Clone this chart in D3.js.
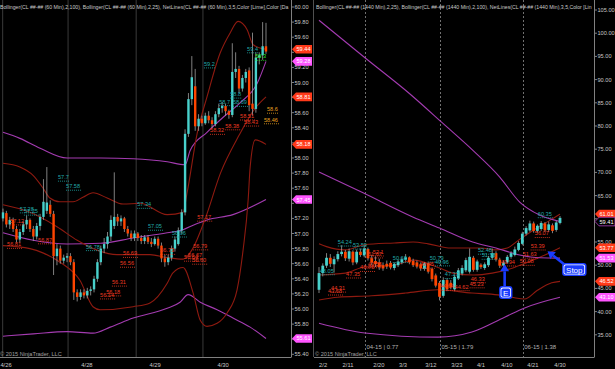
<!DOCTYPE html>
<html><head><meta charset="utf-8">
<script src="https://cdn.jsdelivr.net/npm/d3@7/dist/d3.min.js"></script>
<style>body{margin:0;background:#000;overflow:hidden}svg{display:block}text{font-family:"Liberation Sans",Arial,sans-serif}</style>
</head><body><svg id="c" width="615" height="369"></svg>
<script>
// ---------------- DATA ----------------
// Left panel: 60-min candles [open, high, low, close]
const leftCandles = [
[57.20,57.33,57.16,57.28],[57.27,57.30,57.08,57.12],[57.12,57.22,57.06,57.18],[57.18,57.21,57.02,57.06],
[57.06,57.10,56.88,56.92],[56.92,57.06,56.88,57.02],[57.02,57.16,56.98,57.12],[57.12,57.24,57.06,57.18],
[57.18,57.20,57.02,57.06],[57.06,57.10,56.90,56.96],[56.96,57.14,56.92,57.10],[57.10,57.26,57.04,57.22],
[57.22,57.72,57.18,57.42],[57.30,57.88,57.26,57.41],[57.38,57.44,57.22,57.26],[57.26,57.30,56.45,56.70],
[56.70,56.86,56.58,56.80],[56.80,56.84,56.60,56.64],[56.64,56.72,56.60,56.68],[56.68,56.74,56.62,56.70],
[56.70,56.74,56.58,56.62],[56.62,56.66,56.12,56.22],[56.22,56.26,56.10,56.16],[56.16,56.26,56.12,56.22],
[56.22,56.26,56.14,56.18],[56.18,56.28,56.14,56.24],[56.24,56.30,56.18,56.26],[56.26,56.44,56.22,56.40],
[56.40,56.66,56.36,56.62],[56.62,56.84,56.58,56.80],[56.80,56.94,56.74,56.86],[56.86,57.02,56.80,56.96],
[56.96,57.24,56.90,57.18],[57.10,57.81,57.06,57.22],[57.22,57.26,57.10,57.16],[57.16,57.24,57.10,57.20],
[57.20,57.22,57.02,57.06],[57.06,57.10,56.96,57.00],[57.00,57.04,56.90,56.94],[56.94,57.04,56.90,57.00],
[57.00,57.02,56.90,56.94],[56.94,56.98,56.86,56.90],[56.90,56.98,56.86,56.95],[56.95,56.98,56.86,56.89],
[56.89,56.94,56.82,56.86],[56.86,56.96,56.84,56.93],[56.93,56.96,56.80,56.84],[56.84,56.88,56.62,56.67],
[56.67,56.72,56.56,56.62],[56.62,56.72,56.58,56.68],[56.68,56.84,56.64,56.80],[56.80,56.96,56.76,56.92],
[56.86,57.08,56.84,57.04],[57.04,57.32,57.00,57.28],[57.28,58.38,57.24,58.32],[58.32,58.86,58.28,58.78],
[58.78,59.35,58.70,59.07],[58.95,59.18,58.36,58.42],[58.42,58.58,58.36,58.52],[58.52,58.56,58.42,58.46],
[58.46,58.60,58.44,58.56],[58.56,58.62,58.46,58.50],[58.50,58.54,58.40,58.45],[58.45,58.62,58.42,58.58],
[58.58,58.72,58.54,58.66],[58.66,58.74,58.60,58.69],[58.69,58.72,58.56,58.62],[58.62,58.64,58.52,58.57],
[58.57,59.52,58.54,59.14],[59.14,59.40,59.06,59.18],[59.18,59.22,58.86,58.92],[58.92,59.10,58.88,59.06],
[59.06,59.18,59.00,59.14],[59.16,59.20,58.62,58.70],[58.72,59.66,58.56,58.65],[58.65,59.40,58.60,59.33],
[59.33,59.40,59.24,59.36],[59.36,59.80,59.30,59.48],[59.48,59.79,59.38,59.41]
];
// Right panel: daily candles [open, high, low, close]
const rightCandles = [
[44.7,49.6,44.0,48.3],[48.3,50.4,47.6,49.9],[49.9,52.6,49.4,51.6],[51.6,52.4,49.6,50.3],
[50.2,51.9,48.4,51.3],[51.3,53.0,50.8,52.4],[52.4,54.3,51.9,52.9],[52.9,53.3,50.9,51.5],
[51.4,53.6,50.8,53.0],[52.9,53.2,50.0,50.6],[50.6,53.4,50.2,52.9],[52.9,53.6,51.8,52.2],
[52.1,54.3,51.7,53.6],[53.5,53.8,51.0,51.5],[51.5,52.2,50.0,50.6],[50.9,51.9,49.6,50.2],
[50.6,51.4,49.0,49.6],[50.0,50.6,48.8,49.3],[50.3,51.0,49.2,49.7],[50.5,50.9,49.1,49.5],
[49.4,50.6,48.9,50.3],[50.0,51.2,49.6,50.8],[50.6,51.6,50.2,51.3],[51.2,52.4,50.8,51.7],
[51.7,51.9,50.2,50.6],[50.9,51.4,49.6,50.0],[50.6,51.0,49.3,49.7],[50.2,50.6,48.8,49.3],
[49.2,50.7,48.8,50.4],[50.4,50.8,48.2,48.6],[49.2,49.5,46.5,47.0],[47.8,48.2,45.2,45.6],
[46.2,46.6,42.4,43.2],[43.4,47.4,43.0,46.8],[46.8,47.2,44.4,44.8],[46.2,46.8,44.8,45.2],
[44.8,48.0,44.4,47.5],[47.2,49.4,46.8,48.9],[48.2,50.0,47.8,49.4],[48.9,51.6,48.5,51.1],
[48.6,53.6,48.2,51.8],[51.6,52.0,48.6,49.0],[49.0,51.2,48.6,50.8],[50.1,50.4,49.2,49.6],
[49.4,50.6,49.0,50.2],[50.0,52.0,49.6,51.6],[51.6,53.6,51.2,52.6],[52.6,53.0,50.8,51.2],
[51.2,51.6,49.4,49.9],[49.9,51.0,49.6,50.6],[50.6,52.2,50.3,51.8],[51.8,53.0,51.4,52.6],
[52.2,54.0,51.9,53.4],[53.3,55.2,53.0,54.8],[54.6,57.2,54.3,56.8],[56.8,58.4,56.4,58.0],
[57.5,59.6,57.2,59.0],[59.0,59.4,57.0,57.4],[57.4,58.8,57.0,58.5],[57.8,59.5,57.4,59.1],
[59.0,59.3,57.2,57.5],[57.6,59.4,57.2,58.8],[58.6,59.0,56.9,57.4],[57.6,59.6,57.2,59.2],
[59.1,60.6,58.8,60.2]
];
// Indicator lines [bar index, value]
const leftBB100Upper = [[0,58.34],[5,58.26],[11,58.13],[19,58.0],[29,58.0],[38.6,57.99],[48.7,57.95],[54,57.91],[55.5,58.1],[60.5,58.34],[65.3,58.54],[70.3,58.73],[75.4,58.99],[78,59.28]];
const leftBB100Mid = [[0,57.01],[9,56.91],[19,56.86],[29,56.87],[38.6,56.94],[48.7,57.01],[53.4,57.05],[56.4,57.11],[60.5,57.18],[68.2,57.25],[78,57.45]];
const leftBB100Lower = [[0,55.64],[9,55.67],[19,55.70],[26.7,55.68],[31.8,55.76],[38.6,55.88],[48.7,56.01],[52.5,56.09],[54.9,56.19],[58.5,56.09],[63.5,55.99],[68.2,55.88],[73.3,55.76],[78,55.61]];
const leftBB25Upper = [[0,57.93],[5,57.88],[8.9,57.77],[11.9,57.60],[13.9,57.47],[16.9,57.42],[20.8,57.42],[23.7,57.48],[26.7,57.54],[30.9,57.47],[35.6,57.39],[40.7,57.40],[48.7,57.25],[53.4,57.28],[54.6,57.54],[57.6,58.33],[60.5,58.81],[64.4,59.39],[67.4,59.66],[69.7,59.81],[72.4,59.70],[74.2,59.50],[78,59.44]];
const leftBB25Mid = [[0,57.38],[8,57.28],[16,57.09],[22,56.91],[27.9,56.78],[33.8,56.72],[43.6,56.72],[48.7,56.68],[53.4,56.66],[56,56.78],[60,57.20],[64.5,57.80],[70,58.30],[74.8,58.66],[78,58.81]];
const leftBB25Lower = [[0,56.84],[8,56.80],[12,56.74],[16.9,56.62],[22.8,56.38],[26.7,56.03],[28.8,55.99],[38.6,56.03],[43.6,56.08],[48.7,56.34],[50.4,56.48],[53.4,56.55],[56.4,56.21],[58.5,55.85],[60.5,55.77],[63.5,55.81],[66.5,55.95],[69.4,56.25],[71.2,56.78],[72.7,57.44],[73.3,57.88],[74.8,58.24],[78,58.18]];
const rightBB25Upper = [[0,54.6],[2,54.0],[7,53.3],[12,54.4],[20,54.8],[25,55.0],[29,54.6],[35,53.7],[43,53.7],[47,53.3],[50,53.7],[53,55.4],[57,57.6],[61,59.5],[64,61.01]];
const rightBB25Mid = [[0,47.9],[7,48.3],[12,49.6],[20,50.0],[25,51.1],[32,49.4],[35.5,48.3],[41,47.9],[46,48.3],[51.5,49.4],[55,50.5],[60,52.2],[64,53.77]];
const rightBB25Lower = [[0,42.5],[5,43.1],[14,43.4],[23,44.0],[31.5,44.7],[40.6,44.0],[47.5,43.6],[51.2,43.1],[54.6,42.7],[58,44.6],[61.8,46.2],[64,46.52]];
const rightBB100Upper = [[0,102.8],[12.2,94.7],[24,87.0],[33,80.5],[40.8,74.8],[48,69.0],[53.3,63.6],[58.6,60.8],[64,59.41]];
const rightBB100Mid = [[0,70.1],[11.7,65.6],[24.9,60.4],[32,58.0],[40.8,55.0],[47,53.7],[53.3,52.2],[58.6,51.6],[64,51.53]];
const rightBB100Lower = [[0,37.5],[12.2,35.4],[31.6,34.5],[40.6,35.6],[49.3,38.8],[54.6,40.8],[64,43.10]];
// Axis tick values
const leftTicks = d3.range(0,24).map(k => +(55.4 + k*0.2).toFixed(2));
const rightTicks = d3.range(35,106,5);
// Date labels [bar index, text]
const leftDates = [[0.9,"4/26"],[24.9,"4/28"],[45.1,"4/29"],[65.3,"4/30"]];
const rightDates = [[1.1,"2/2"],[7.7,"2/11"],[15.9,"2/20"],[22.3,"3/3"],[29.7,"3/12"],[36.6,"3/23"],[43.0,"4/1"],[49.9,"4/10"],[56.8,"4/21"],[64.0,"4/30"]];
const leftSessions = [-0.1, 19.3, 39.5, 59.3];
const rightRolls = [[12.2,"04-15 | 0.77"],[32.1,"05-15 | 1.79"],[54.1,"06-15 | 1.38"]];
// Price tags [value, kind]
const leftTags = [[59.44,"red"],[59.28,"mag"],[58.81,"red"],[58.18,"red"],[57.45,"mag"],[55.61,"mag"]];
const rightTags = [[61.01,"red"],[59.41,"blk"],[53.77,"red"],[51.53,"mag"],[46.52,"red"],[43.10,"mag"]];
// NetLines labels [text, bar index, kind]
const leftLabels = [
["57.7",16.3,"teal"],["57.58",18.7,"teal"],["57.28",5.0,"teal"],["57.25",6.2,"teal"],["56.78",24.6,"teal"],
["57.34",39.8,"teal"],["57.05",43,"teal"],["56.96",50.1,"teal"],["59.2",59.6,"teal"],["58.7",64.1,"teal"],
["58.8",67.4,"teal"],["58.69",68.2,"teal"],["59.4",72.4,"teal"],["59.3",74.8,"lime"],
["57.12",2.1,"red"],["56.81",1.2,"red"],["56.87",10.4,"red"],["56.31",32.3,"red"],["56.69",35.6,"red"],
["56.56",34.7,"red"],["56.18",30.6,"red"],["56.14",28.8,"red"],["56.73",46.6,"red"],["56.79",56.4,"red"],
["57.17",57.6,"red"],["56.67",54.9,"red"],["56.64",53.7,"red"],["56.60",56.1,"red"],["58.32",61.4,"red"],
["58.38",65.9,"red"],["58.51",70.3,"red"],["58.43",71.5,"red"],["58.6",78.3,"orange"],["58.46",77.4,"orange"]
];
const rightLabels = [
["54.24",5.0,"teal"],["53.59",9.0,"teal"],["50.68",19.6,"teal"],["50.79",29.4,"teal"],["49.96",30.8,"teal"],
["47.23",33.4,"teal"],["52.48",42.2,"teal"],["51.38",43.2,"teal"],["60.35",58.1,"teal"],["48.05",0.2,"teal"],
["52.1",14.3,"red"],["51.67",13,"red"],["49.56",13,"red"],["48.76",10.9,"red"],["47.35",7.2,"red"],
["44.31",3.2,"red"],["43.68",2.4,"red"],["49.45",26.8,"red"],["46.33",40.3,"red"],["45.23",40,"red"],
["44.64",32.1,"red"],["44.62",36,"red"],["49.94",48.3,"red"],["50.08",53.3,"red"],["51.63",54.1,"red"],
["53.39",56.2,"red"],["56.07",57.3,"red"]
];
// Annotations: text, tip [index, value], box center [index, value]
const annotations = [["E",[49.3,50.2],[49.6,44.1]],["Stop",[60.7,53.0],[67.8,49.07]]];
const leftHeader = "Bollinger(CL ##-## (60 Min),2,100), Bollinger(CL ##-## (60 Min),2,25), NetLines(CL ##-## (60 Min),3,5,Color [Lime],Color [Da";
const rightHeader = "Bollinger(CL ##-## (1440 Min),2,25), Bollinger(CL ##-## (1440 Min),2,100), NetLines(CL ##-## (1440 Min),3,5,Color [Lin";
const copyright = "© 2015 NinjaTrader, LLC";

// ---------------- DRAW ----------------
const svg = d3.select("#c");
svg.append("rect").attr("width",615).attr("height",369).attr("fill","#000");
const defs = svg.append("defs");
defs.append("clipPath").attr("id","clipL").append("rect").attr("x",0).attr("y",0).attr("width",291).attr("height",357);
defs.append("clipPath").attr("id","clipR").append("rect").attr("x",314).attr("y",0).attr("width",280).attr("height",357);

const COL = {up:"#48d1cc", down:"#ff4500", wick:"#a0a0a0", bb25:"#8e1a10", bb100:"#a33bb0",
  teal:"#20a8a8", red:"#ec3a22", orange:"#e8a020", lime:"#2ee82e", axis:"#808080", txt:"#c8c8c8"};

function panel(cfg){
  const {x, y, clip, axisX, candles, bodyW, lines, ticks, dates, labels, tags, header, headerX, headerW, copyX} = cfg;
  const g = svg.append("g").attr("clip-path",`url(#${clip})`);
  if (cfg.sessions) cfg.sessions.forEach(s => g.append("line").attr("x1",x(s)).attr("x2",x(s)).attr("y1",0).attr("y2",357).attr("stroke","#3a3a3a").attr("stroke-width",1));
  if (cfg.rolls) cfg.rolls.forEach(r => {
    g.append("line").attr("x1",Math.round(x(r[0]))+0.5).attr("x2",Math.round(x(r[0]))+0.5).attr("y1",0).attr("y2",357).attr("stroke","#707070").attr("stroke-dasharray","2,2");
    g.append("text").attr("x",x(r[0])+1.5).attr("y",349).attr("font-size",6).attr("fill","#b0b0b0").text(r[1]);
  });
  // header: font size chosen so the text's natural width fits the panel
  const ht = svg.append("text").attr("x",headerX).attr("y",8.5).attr("font-size",6).attr("fill","#c8c8c8").text(header);
  const nat = ht.node().getComputedTextLength();
  ht.attr("font-size", 6*headerW/nat);
  // indicator lines
  const line = d3.line().x(d=>x(d[0])).y(d=>y(d[1])).curve(d3.curveMonotoneX);
  lines.forEach(l => g.append("path").attr("d",line(l[0])).attr("fill","none").attr("stroke",l[1]).attr("stroke-width",1.1));
  // candles
  const cg = g.append("g");
  candles.forEach((c,i) => {
    const [o,h,l,cl] = c, up = cl >= o;
    cg.append("line").attr("x1",x(i)).attr("x2",x(i)).attr("y1",y(h)).attr("y2",y(l)).attr("stroke",COL.wick).attr("stroke-width",0.8);
    const top = y(Math.max(o,cl)), bot = y(Math.min(o,cl));
    cg.append("rect").attr("x",x(i)-bodyW/2).attr("y",top).attr("width",bodyW).attr("height",Math.max(1,bot-top)).attr("fill",up?COL.up:COL.down);
  });
  // labels
  labels.forEach(lb => {
    const v = parseFloat(lb[0]), px = x(lb[1]), py = y(v);
    const t = g.append("text").attr("x",px).attr("y",py-1.6).attr("font-size",5.6).attr("fill",COL[lb[2]]).text(lb[0]);
    const w = t.node().getComputedTextLength();
    g.append("line").attr("x1",px).attr("x2",px+w+1).attr("y1",py+0.5).attr("y2",py+0.5).attr("stroke",COL[lb[2]]).attr("stroke-width",0.8).attr("stroke-dasharray","1,1");
  });
  // axes frame
  svg.append("line").attr("x1",axisX+0.5).attr("x2",axisX+0.5).attr("y1",0).attr("y2",357).attr("stroke",COL.axis);
  svg.append("line").attr("x1",cfg.left).attr("x2",axisX+0.5).attr("y1",357.5).attr("y2",357.5).attr("stroke",COL.axis);
  // ticks
  const tagYs = tags.map(t => y(t[0]));
  ticks.forEach(tv => {
    const py = y(tv);
    if (py < 3 || py > 357) return;
    svg.append("line").attr("x1",axisX).attr("x2",axisX+3).attr("y1",py).attr("y2",py).attr("stroke",COL.axis);
    if (tagYs.some(ty => Math.abs(ty-py) < 5.5)) return;
    svg.append("text").attr("x",axisX+3.5).attr("y",py+2).attr("font-size",5.6).attr("fill",COL.txt).text(tv.toFixed(2));
  });
  // tags
  tags.forEach(t => {
    const py = y(t[0]), x0 = axisX+1;
    const fill = t[1]==="red" ? "#ff3a1a" : t[1]==="mag" ? "#ff55ff" : "#000";
    const stroke = t[1]==="blk" ? "#b040c0" : "none";
    svg.append("path").attr("d",`M${x0},${py} L${x0+4},${py-4.3} L${x0+20},${py-4.3} L${x0+20},${py+4.3} L${x0+4},${py+4.3} Z`).attr("fill",fill).attr("stroke",stroke).attr("stroke-width",0.8);
    svg.append("text").attr("x",x0+4.5).attr("y",py+2).attr("font-size",5.6).attr("fill","#fff").text(t[0].toFixed(2));
  });
  // dates
  dates.forEach(d => svg.append("text").attr("x",x(d[0])).attr("y",366.5).attr("text-anchor","middle").attr("font-size",5.8).attr("fill",COL.txt).text(d[1]));
  // copyright
  svg.append("text").attr("x",copyX).attr("y",355.5).attr("font-size",5.6).attr("fill","#a0a0a0").text(copyright);
  return g;
}

// Left panel
const xL = d3.scaleLinear().domain([0,78]).range([3,266]);
const yL = d3.scaleLinear().domain([55.4,60.0]).range([354.3,7]);
panel({x:xL, y:yL, clip:"clipL", axisX:291, left:0, candles:leftCandles, bodyW:2.4,
  lines:[[leftBB100Upper,COL.bb100],[leftBB100Mid,COL.bb100],[leftBB100Lower,COL.bb100],[leftBB25Upper,COL.bb25],[leftBB25Mid,COL.bb25],[leftBB25Lower,COL.bb25]],
  ticks:leftTicks, dates:leftDates, labels:leftLabels, tags:leftTags, header:leftHeader, headerX:0, headerW:289, copyX:0, sessions:leftSessions});

// Right panel
const xR = d3.scaleLinear().domain([0,64]).range([319,560]);
const yR = d3.scaleLinear().domain([35,105]).range([334.8,10]);
svg.append("line").attr("x1",313.5).attr("x2",313.5).attr("y1",0).attr("y2",357).attr("stroke","#505050");
const gR = panel({x:xR, y:yR, clip:"clipR", axisX:594, left:314, candles:rightCandles, bodyW:2.8,
  lines:[[rightBB25Upper,COL.bb25],[rightBB25Mid,COL.bb25],[rightBB25Lower,COL.bb25],[rightBB100Upper,COL.bb100],[rightBB100Mid,COL.bb100],[rightBB100Lower,COL.bb100]],
  ticks:rightTicks, dates:rightDates, labels:rightLabels, tags:rightTags, header:rightHeader, headerX:316, headerW:276, copyX:315, rolls:rightRolls});

// Annotations
annotations.forEach(a => {
  const [txt, tip, box] = a;
  const tx = xR(tip[0]), ty = yR(tip[1]), bx = xR(box[0]), by = yR(box[1]);
  const fs = 8;
  const tmp = gR.append("text").attr("font-size",fs).text(txt);
  const w = tmp.node().getComputedTextLength() + 8; tmp.remove();
  const h = 13;
  const sx = txt==="E" ? tx : bx - w/2 + 3, sy = txt==="E" ? by - h/2 : by - h/2 + 2;
  const ang = Math.atan2(ty-sy, tx-sx), hl = 7, hw = 4.5;
  const bxp = tx - hl*Math.cos(ang), byp = ty - hl*Math.sin(ang);
  gR.append("line").attr("x1",sx).attr("y1",sy).attr("x2",bxp).attr("y2",byp).attr("stroke","#1a3cff").attr("stroke-width",2.6);
  gR.append("path").attr("d",`M${tx},${ty} L${bxp+hw*Math.sin(ang)},${byp-hw*Math.cos(ang)} L${bxp-hw*Math.sin(ang)},${byp+hw*Math.cos(ang)} Z`).attr("fill","#1a3cff");
  gR.append("rect").attr("x",bx-w/2).attr("y",by-h/2).attr("width",w).attr("height",h).attr("rx",3).attr("fill","#1a3cff");
  gR.append("rect").attr("x",bx-w/2+1.5).attr("y",by-h/2+1.5).attr("width",w-3).attr("height",h-3).attr("rx",2).attr("fill","#fff");
  gR.append("rect").attr("x",bx-w/2+2.3).attr("y",by-h/2+2.3).attr("width",w-4.6).attr("height",h-4.6).attr("rx",1.5).attr("fill","#1a3cff");
  gR.append("text").attr("x",bx).attr("y",by+3).attr("text-anchor","middle").attr("font-size",fs).attr("fill","#fff").text(txt);
});
</script></body></html>
